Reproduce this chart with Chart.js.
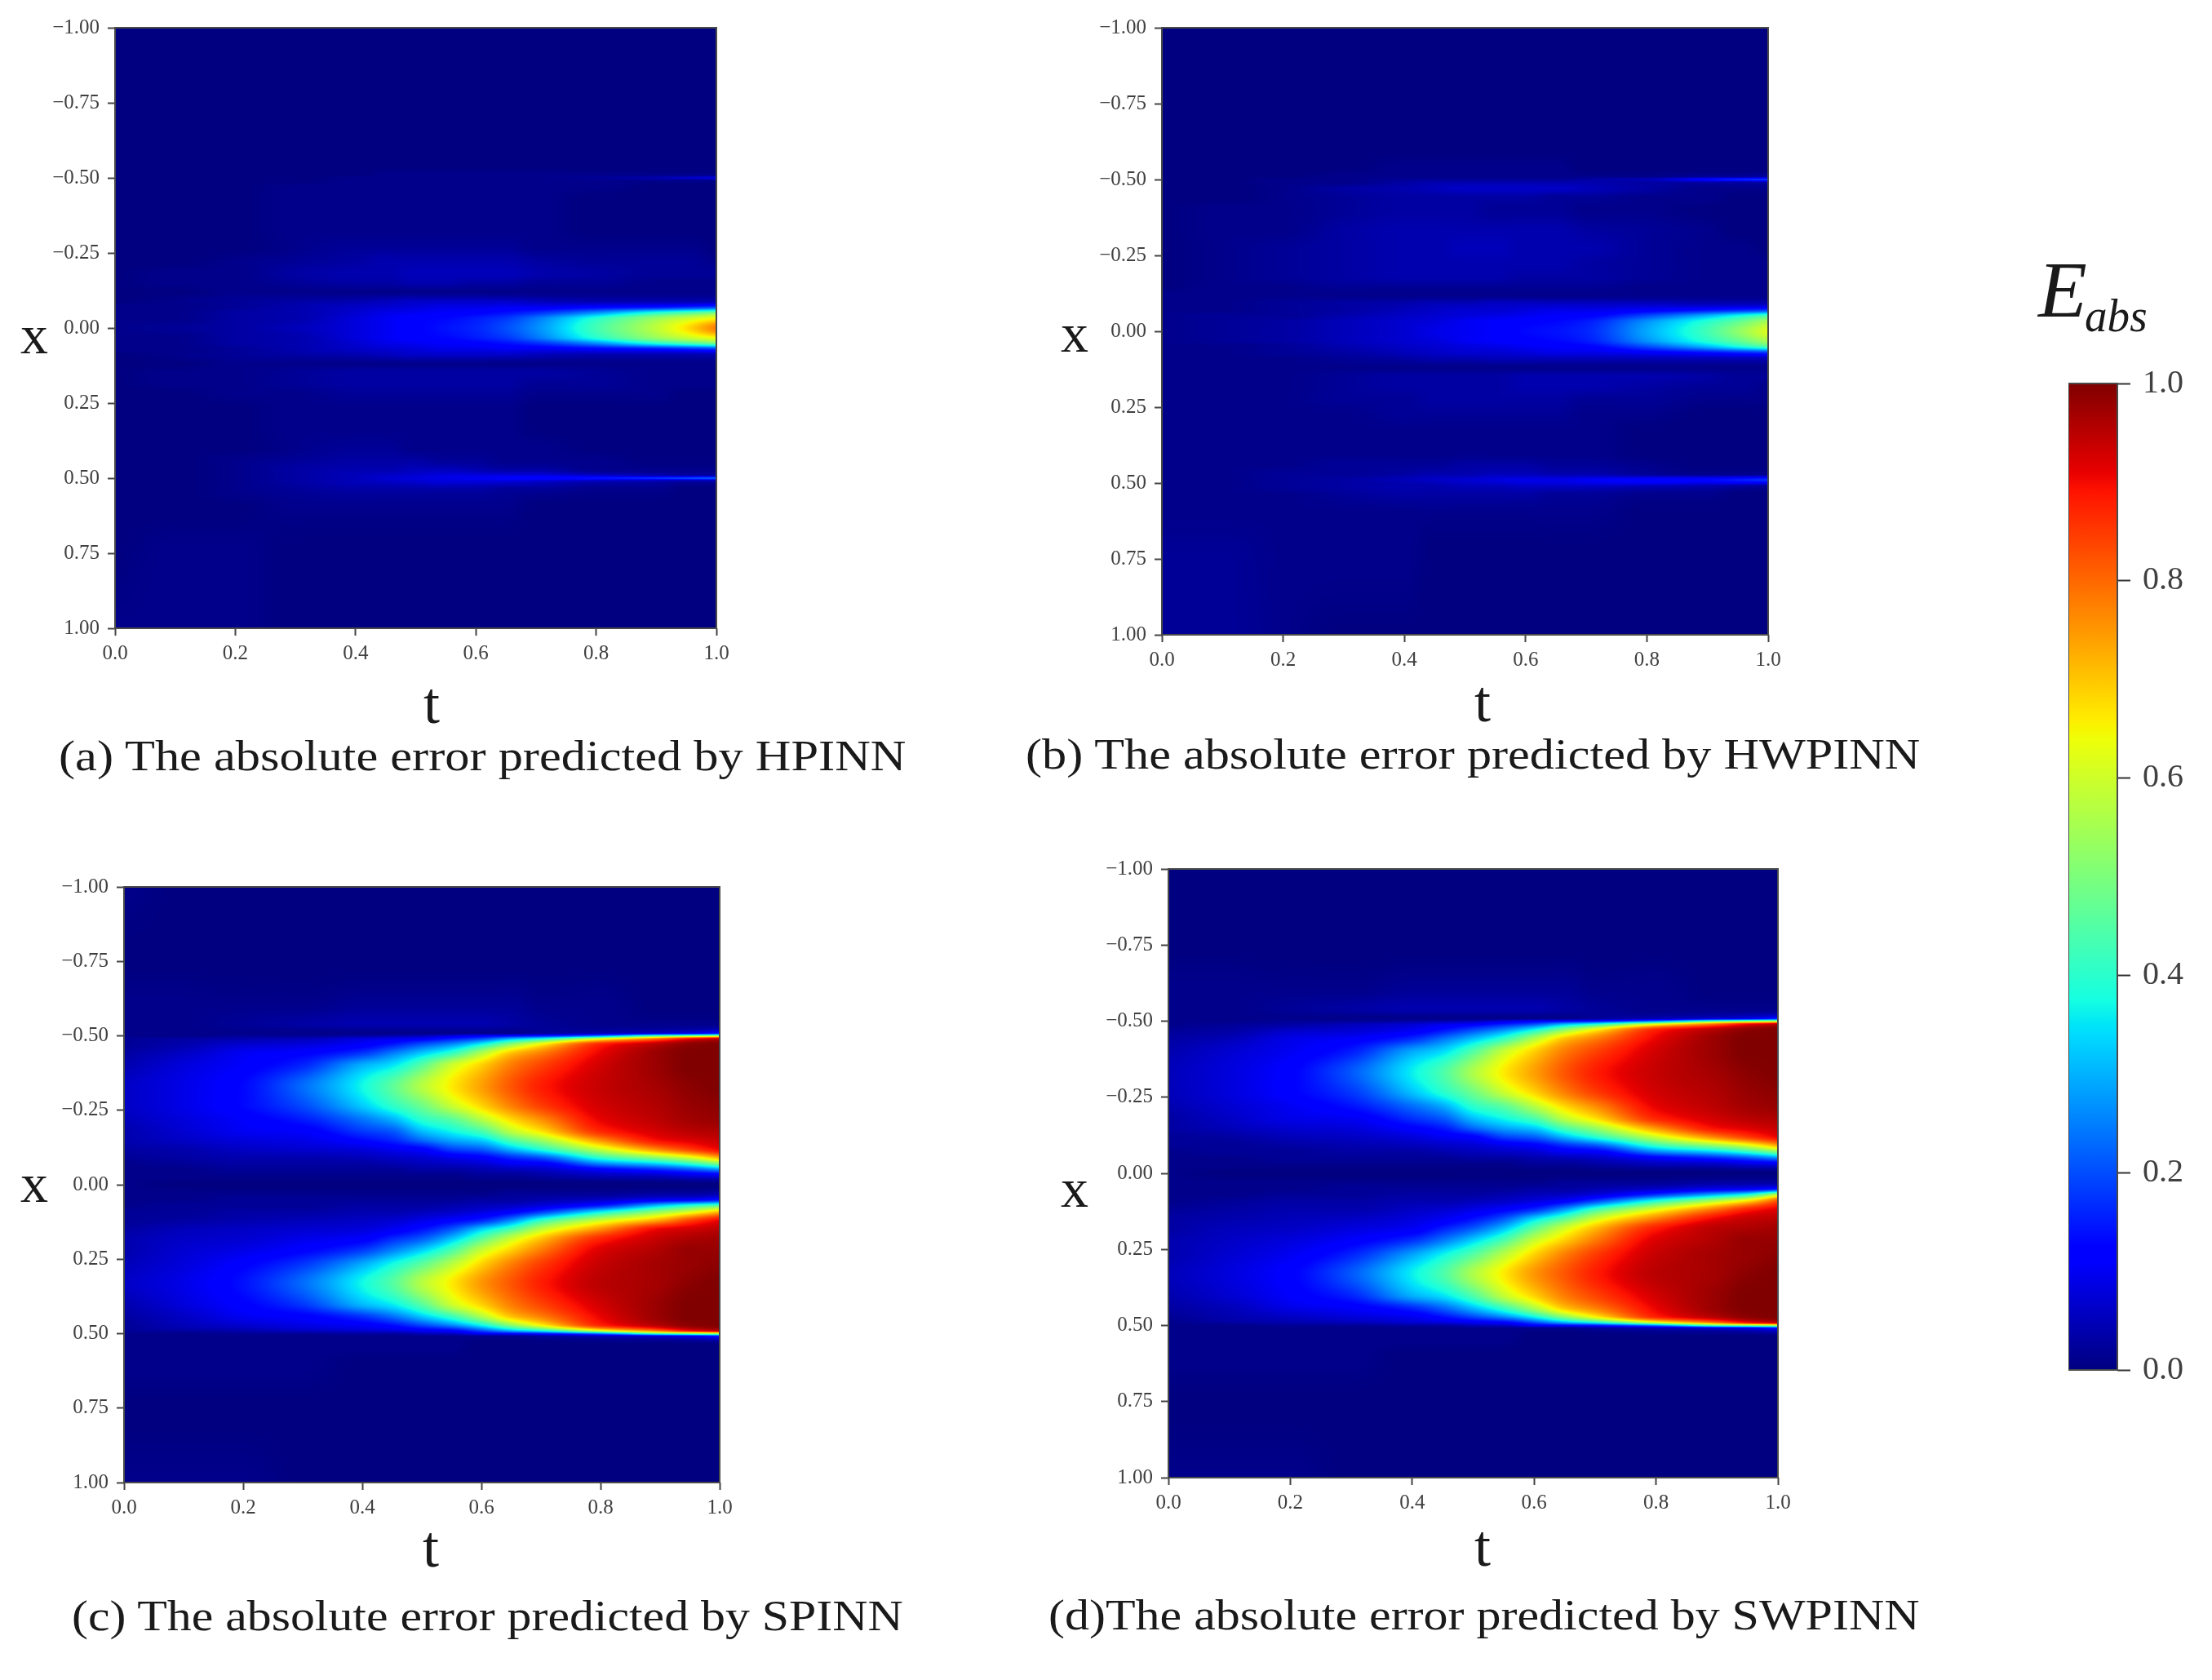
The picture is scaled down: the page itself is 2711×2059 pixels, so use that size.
<!DOCTYPE html>
<html>
<head>
<meta charset="utf-8">
<script src="https://cdn.jsdelivr.net/npm/chart.js@4/dist/chart.umd.min.js"></script>
<style>
  html, body { margin: 0; background: #fff; }
  #page { position: relative; width: 2711px; height: 2059px; overflow: hidden; filter: blur(0.7px); }
  canvas { position: absolute; }
  .txt { position: absolute; line-height: 1; white-space: nowrap; color: #1a1a1a; font-family: "Liberation Serif", serif; }
</style>
</head>
<body>
<div id="page"></div>
<script>
// axes of the error grids
const tCols = [0, 0.1, 0.2, 0.3, 0.4, 0.45, 0.5, 0.55, 0.6, 0.65, 0.7, 0.8, 0.9, 0.95, 1];
const xRows = [-1, -0.75, -0.6, -0.54, -0.51, -0.5, -0.49, -0.47, -0.44, -0.4, -0.33, -0.27, -0.22, -0.18, -0.15, -0.12, -0.09, -0.07, -0.05, -0.03, 0,
  0.03, 0.05, 0.07, 0.09, 0.12, 0.15, 0.18, 0.22, 0.27, 0.33, 0.4, 0.44, 0.47, 0.49, 0.5, 0.51, 0.54, 0.6, 0.75, 1];

const tTicks = [0, 0.2, 0.4, 0.6, 0.8, 1];
const tTickLabels = ['0.0', '0.2', '0.4', '0.6', '0.8', '1.0'];
const xTicks = [-1, -0.75, -0.5, -0.25, 0, 0.25, 0.5, 0.75, 1];
const xTickLabels = ['\u22121.00', '\u22120.75', '\u22120.50', '\u22120.25', '0.00', '0.25', '0.50', '0.75', '1.00'];
const barTicks = [0, 0.2, 0.4, 0.6, 0.8, 1];
const barTickLabels = ['0.0', '0.2', '0.4', '0.6', '0.8', '1.0'];
const barRange = [0, 1];

// E_abs in percent, one line per t column, top to bottom along x
const hpinnErr = [
  [0,0,0,0,0,0,0,0,0,0,0,0,0,0,0,0,0,1,1,1, 1, 1,1,1,0,0,0,0,0,0,0,0,0,0,0,0,0,0,0,0,1],
  [0,0,0,0,0,0,0,0,0,0,0,0,0,1,1,0,1,1,1,1, 2, 1,1,1,1,0,1,1,0,0,0,0,0,0,0,0,0,0,0,1,1],
  [0,0,0,0,0,0,0,0,0,0,0,0,1,1,1,1,2,2,3,3, 3, 3,3,2,2,1,1,1,1,0,0,0,1,1,1,1,1,1,0,1,1],
  [0,0,0,0,0,0,0,1,1,1,1,1,2,3,2,1,3,4,4,4, 5, 4,4,4,3,1,2,2,1,1,1,1,2,3,3,3,3,2,1,0,0],
  [0,0,0,0,0,1,1,1,1,1,1,2,3,4,3,1,4,6,7,8, 8, 8,7,6,4,1,3,3,2,1,1,2,3,4,5,5,5,3,1,0,0],
  [0,0,0,0,1,1,1,1,1,1,1,2,4,4,3,1,5,7,9,10, 10, 10,9,7,5,1,3,3,2,1,1,2,3,4,6,7,6,3,1,0,0],
  [0,0,0,0,1,1,1,1,1,1,1,2,4,5,4,1,6,8,10,12, 12, 12,10,8,6,1,3,3,2,1,1,1,3,5,7,8,7,3,1,0,0],
  [0,0,0,0,1,1,1,1,1,1,1,2,4,5,4,1,6,9,11,13, 14, 13,11,9,6,1,3,3,2,1,1,1,2,5,8,9,8,3,1,0,0],
  [0,0,0,0,1,1,1,1,1,1,1,2,4,5,3,1,6,9,12,15, 16, 15,12,9,6,1,3,3,2,1,1,1,2,4,8,10,8,3,1,0,0],
  [0,0,0,0,1,1,1,1,1,1,1,2,4,5,3,1,6,10,14,18, 20, 18,14,10,6,1,3,3,2,1,1,1,1,3,8,11,8,2,1,0,0],
  [0,0,0,0,1,1,1,1,1,1,1,1,3,4,2,1,5,10,17,24, 26, 24,17,10,5,1,3,2,1,0,0,1,1,3,8,12,7,2,0,0,0],
  [0,0,0,0,1,2,1,1,0,0,0,1,2,3,2,1,4,12,27,40, 43, 40,27,12,4,1,2,2,1,0,0,0,1,1,6,14,5,1,0,0,0],
  [0,0,0,0,1,4,1,0,0,0,0,1,2,2,1,1,4,14,40,54, 58, 54,40,14,4,1,1,1,1,0,0,0,0,1,4,17,4,1,0,0,0],
  [0,0,0,0,1,6,1,0,0,0,0,1,2,2,1,1,4,16,45,60, 67, 60,45,16,4,1,1,1,0,0,0,0,0,1,3,19,3,0,0,0,0],
  [0,0,0,0,1,8,1,0,0,0,0,0,1,2,1,1,4,18,50,66, 78, 66,50,18,4,1,1,1,0,0,0,0,0,1,3,21,3,0,0,0,0]
];

const hwpinnErr = [
  [0,0,0,0,0,0,0,0,0,0,0,0,0,0,0,1,1,1,1,1, 1, 1,1,1,1,1,1,1,1,1,1,1,1,1,1,1,1,1,1,2,2],
  [0,0,0,0,0,0,0,0,0,1,1,1,1,1,1,1,1,1,2,2, 2, 2,1,1,1,1,1,1,1,1,1,1,1,1,1,1,1,1,1,2,2],
  [0,0,0,0,0,1,1,1,1,1,1,2,2,2,1,1,2,2,2,3, 3, 3,2,2,1,1,1,1,1,1,1,1,1,2,2,2,2,1,1,1,1],
  [0,0,0,0,1,1,1,3,2,2,3,3,3,3,2,1,3,3,4,5, 5, 5,4,3,2,1,2,2,2,1,1,1,2,2,3,3,3,2,1,1,0],
  [0,0,0,1,1,2,3,4,3,3,4,4,4,4,2,1,4,5,6,7, 7, 7,6,5,3,1,3,3,2,2,1,1,2,3,5,4,4,3,1,1,0],
  [0,0,0,1,1,2,4,5,3,3,4,4,4,4,2,1,5,6,7,8, 9, 8,7,6,4,1,3,3,3,2,1,1,2,4,6,5,4,3,1,0,0],
  [0,0,0,1,1,2,4,6,3,3,4,5,4,4,2,1,5,7,8,10, 10, 10,8,7,4,1,3,3,3,2,1,1,3,4,7,6,5,3,1,0,0],
  [0,0,0,1,1,2,4,6,3,2,4,5,4,4,2,1,6,7,9,11, 11, 11,9,7,5,1,3,3,3,2,1,1,3,5,8,7,5,3,1,0,0],
  [0,0,0,1,1,2,4,6,3,2,4,4,4,3,2,1,6,8,10,12, 13, 12,10,8,5,1,4,4,3,2,1,1,3,5,9,8,6,3,1,0,0],
  [0,0,0,1,1,2,4,6,2,2,4,4,4,3,2,1,6,9,11,13, 14, 13,11,9,5,1,4,4,3,2,1,1,2,4,9,8,6,2,1,0,0],
  [0,0,0,0,1,3,4,5,2,1,3,4,3,3,2,1,6,9,12,15, 16, 15,12,9,5,1,4,4,2,1,1,1,2,4,10,9,6,2,1,0,0],
  [0,0,0,0,1,5,3,3,1,1,2,2,2,2,1,1,6,11,20,27, 29, 27,20,11,5,1,4,3,2,1,0,0,1,2,12,10,5,1,0,0,0],
  [0,0,0,0,2,13,3,1,1,0,1,1,1,1,1,1,5,14,31,40, 43, 40,31,14,5,1,3,2,1,0,0,0,0,1,13,9,4,1,0,0,0],
  [0,0,0,0,2,16,3,1,0,0,0,1,1,1,1,1,5,16,38,47, 52, 47,38,16,5,1,2,2,1,0,0,0,0,1,15,10,3,0,0,0,0],
  [0,0,0,0,3,18,3,1,0,0,0,0,1,1,1,1,5,18,45,56, 62, 56,45,18,5,1,2,1,1,0,0,0,0,1,17,10,2,0,0,0,0]
];

const spinnErr = [
  [1,0,1,1,1,1,2,2,3,4,6,6,5,4,4,3,2,1,1,1, 1, 1,1,1,2,2,3,4,4,5,6,4,3,2,2,1,1,1,1,0,1],
  [0,0,1,1,1,1,3,4,6,8,9,9,8,7,6,4,3,2,1,1, 0, 1,1,2,2,3,5,6,7,8,9,8,6,5,3,1,1,1,1,0,1],
  [0,0,1,2,1,2,4,7,10,11,13,13,11,10,8,6,4,3,2,1, 0, 1,2,2,3,4,6,7,9,12,14,12,10,7,4,2,1,1,1,0,1],
  [0,0,1,3,1,2,5,8,12,16,23,20,15,11,9,7,4,3,2,1, 0, 1,2,2,3,5,7,9,12,18,23,18,12,9,6,2,1,1,1,0,0],
  [0,0,2,4,1,3,8,11,18,30,37,33,24,18,13,8,5,3,2,1, 0, 1,2,3,4,6,8,11,18,30,37,31,18,11,7,3,1,1,0,0,0],
  [0,0,2,4,1,4,9,15,25,35,46,41,30,21,16,10,6,4,2,1, 0, 1,2,3,4,7,10,16,25,38,45,36,24,14,8,3,1,1,0,0,0],
  [0,0,2,4,1,5,11,21,33,46,57,49,40,31,23,12,7,5,3,1, 0, 1,2,3,5,9,14,21,33,47,57,46,33,20,10,5,1,1,0,0,0],
  [0,0,2,4,1,8,15,27,42,60,66,60,46,37,29,19,9,6,3,1, 0, 1,2,4,6,12,21,31,44,58,66,60,43,27,12,6,1,1,0,0,0],
  [0,0,2,4,1,11,20,38,57,69,74,69,57,44,33,22,11,7,4,2, 0, 1,3,5,8,16,33,45,59,69,75,69,57,38,20,11,1,0,0,0,0],
  [0,0,2,3,1,13,30,53,71,78,82,78,68,58,45,31,16,10,5,2, 0, 2,3,6,11,26,44,59,69,78,82,78,71,53,30,13,1,0,0,0,0],
  [0,0,1,2,2,15,38,66,78,84,88,85,76,67,54,40,20,11,6,3, 0, 2,4,8,17,41,58,70,78,85,88,84,78,66,38,15,2,0,0,0,0],
  [0,0,1,1,4,25,62,88,91,93,94,93,91,87,76,60,40,25,11,5, 0, 2,6,15,35,60,76,87,92,94,95,93,91,88,62,25,4,0,0,0,0],
  [0,0,0,1,6,45,80,96,98,98,97,96,95,93,90,78,52,33,16,6, 0, 3,10,32,52,74,91,94,96,97,97,98,98,96,80,45,6,0,0,0,0],
  [0,0,0,1,8,50,90,99,100,100,99,98,97,95,92,85,60,40,20,8, 0, 3,11,40,60,84,93,96,98,98,99,100,100,99,90,50,8,0,0,0,0],
  [0,0,0,1,12,55,95,100,100,100,100,99,98,96,94,91,72,50,26,9, 0, 4,14,46,70,91,95,97,98,99,100,100,100,100,95,55,12,0,0,0,0]
];

const swpinnErr = [
  [0,0,1,1,1,1,1,2,3,4,5,5,4,3,3,2,2,1,1,1, 1, 1,1,1,1,2,3,3,4,4,5,4,3,2,1,1,1,1,1,0,1],
  [0,0,1,1,1,1,2,3,5,7,8,8,7,6,5,3,2,2,1,1, 0, 1,1,1,2,3,4,5,6,7,8,7,5,4,3,1,1,1,1,0,1],
  [0,0,1,2,1,2,3,6,9,10,12,12,10,9,7,5,3,2,2,1, 0, 1,1,2,3,4,5,6,8,10,12,11,9,6,4,2,1,1,1,0,1],
  [0,0,1,3,1,2,5,7,11,15,21,18,14,10,8,6,4,3,2,1, 0, 1,2,2,3,4,6,8,11,16,21,16,11,8,5,2,1,1,1,0,0],
  [0,0,2,4,1,3,7,10,17,29,36,32,23,17,12,8,5,3,2,1, 0, 1,2,3,4,6,8,10,17,29,36,30,17,10,7,3,1,1,0,0,0],
  [0,0,2,4,1,4,9,14,24,34,44,40,29,21,15,10,6,4,2,1, 0, 1,2,3,4,7,10,15,24,37,44,35,23,14,8,3,1,1,0,0,0],
  [0,0,2,4,1,5,11,20,32,45,56,49,40,31,23,12,7,5,3,1, 0, 1,2,3,5,9,14,21,33,46,56,45,32,20,10,5,1,1,0,0,0],
  [0,0,2,4,1,8,15,27,42,59,66,60,46,37,29,19,9,6,3,1, 0, 1,2,4,6,12,21,31,44,58,66,59,43,27,12,6,1,1,0,0,0],
  [0,0,2,4,1,11,20,38,57,69,74,69,57,44,33,22,11,7,4,2, 0, 1,3,5,8,17,34,46,59,69,75,69,57,38,20,11,1,0,0,0,0],
  [0,0,2,3,1,13,30,53,71,78,82,78,68,58,45,31,16,10,5,2, 0, 2,3,6,11,28,46,60,69,78,82,78,71,53,30,13,1,0,0,0,0],
  [0,0,1,2,2,15,38,66,78,84,88,85,76,67,54,40,20,11,6,3, 0, 2,4,8,18,43,60,71,78,85,88,84,78,66,38,15,2,0,0,0,0],
  [0,0,1,1,4,25,62,88,91,93,94,93,91,87,76,60,40,25,11,5, 0, 2,6,17,38,63,78,88,92,94,95,93,91,88,62,25,4,0,0,0,0],
  [0,0,0,1,6,45,80,96,98,98,97,96,95,93,90,78,52,33,16,6, 0, 3,9,30,56,80,91,95,96,97,97,98,98,96,80,45,6,0,0,0,0],
  [0,0,0,1,8,50,90,99,100,100,99,98,97,95,92,85,60,40,20,8, 0, 3,10,38,66,88,94,96,98,98,99,100,100,99,90,50,8,0,0,0,0],
  [0,0,0,1,12,55,95,100,100,100,100,99,98,96,94,91,72,50,26,9, 0, 3,13,58,82,92,95,97,98,99,100,100,100,100,95,55,12,0,0,0,0]
];

// jet colormap knots
const jetR = [[0, 0], [0.35, 0], [0.66, 1], [0.89, 1], [1, 0.5]];
const jetG = [[0, 0], [0.125, 0], [0.375, 1], [0.64, 1], [0.91, 0], [1, 0]];
const jetB = [[0, 0.5], [0.11, 1], [0.34, 1], [0.65, 0], [1, 0]];
const barGradientStops = [0, 0.11, 0.125, 0.34, 0.35, 0.375, 0.64, 0.65, 0.66, 0.89, 0.91, 1];

function knot(list, v) {
  for (let i = 1; i < list.length; i++) {
    if (v <= list[i][0]) {
      const a = list[i - 1], b = list[i];
      return a[1] + (b[1] - a[1]) * (v - a[0]) / (b[0] - a[0]);
    }
  }
  return list[list.length - 1][1];
}
function jet(v) {
  return [knot(jetR, v) * 255, knot(jetG, v) * 255, knot(jetB, v) * 255];
}

// where value falls between two grid lines
function locate(list, v) {
  let i = 0;
  while (i < list.length - 2 && v > list[i + 1]) i++;
  const f = (v - list[i]) / (list[i + 1] - list[i]);
  return [i, Math.max(0, Math.min(1, f))];
}

// monotone slopes, so the display smoothing (like imshow's) can't overshoot
function slopes(xs, ys) {
  const n = xs.length, m = new Array(n), d = [];
  for (let i = 0; i < n - 1; i++) d.push((ys[i + 1] - ys[i]) / (xs[i + 1] - xs[i]));
  m[0] = d[0]; m[n - 1] = d[n - 2];
  for (let i = 1; i < n - 1; i++) {
    if (d[i - 1] * d[i] <= 0) { m[i] = 0; continue; }
    const h0 = xs[i] - xs[i - 1], h1 = xs[i + 1] - xs[i];
    const w0 = 2 * h1 + h0, w1 = h1 + 2 * h0;
    m[i] = (w0 + w1) / (w0 / d[i - 1] + w1 / d[i]);
  }
  return m;
}
function hermite(xs, ys, m, i, f) {
  const h = xs[i + 1] - xs[i], f2 = f * f, f3 = f2 * f;
  return (2 * f3 - 3 * f2 + 1) * ys[i] + (f3 - 2 * f2 + f) * h * m[i] +
    (3 * f2 - 2 * f3) * ys[i + 1] + (f3 - f2) * h * m[i + 1];
}

// paints the grid like imshow, going through the chart's own scales
const heatLayer = {
  id: 'heatLayer',
  beforeDatasetsDraw(chart) {
    const pts = chart.data.datasets[0].data;
    const area = chart.chartArea, sx = chart.scales.x, sy = chart.scales.y;
    const w = Math.round(area.right - area.left), h = Math.round(area.bottom - area.top);
    const img = chart.ctx.createImageData(w, h);
    const nr = xRows.length;
    const rowVals = xRows.map((x, r) => tCols.map((t, c) => pts[c * nr + r].v));
    const rowSlopes = rowVals.map(vals => slopes(tCols, vals));
    const rowAt = [];
    for (let j = 0; j < h; j++) rowAt.push(locate(xRows, sy.getValueForPixel(area.top + j + 0.5)));
    for (let i = 0; i < w; i++) {
      const [c, fc] = locate(tCols, sx.getValueForPixel(area.left + i + 0.5));
      const column = rowVals.map((vals, r) => hermite(tCols, vals, rowSlopes[r], c, fc));
      const colSlopes = slopes(xRows, column);
      for (let j = 0; j < h; j++) {
        const v = hermite(xRows, column, colSlopes, rowAt[j][0], rowAt[j][1]);
        const col = jet(Math.max(0, Math.min(1, v / 100)));
        const p = (j * w + i) * 4;
        img.data[p] = col[0]; img.data[p + 1] = col[1]; img.data[p + 2] = col[2]; img.data[p + 3] = 255;
      }
    }
    chart.ctx.putImageData(img, area.left, area.top);
  }
};

const frameLayer = {
  id: 'frameLayer',
  afterDatasetsDraw(chart) {
    const a = chart.chartArea, ctx = chart.ctx;
    ctx.save();
    ctx.strokeStyle = '#4a4a4a';
    ctx.lineWidth = 2;
    ctx.strokeRect(a.left, a.top, a.right - a.left, a.bottom - a.top);
    ctx.restore();
  }
};

const page = document.getElementById('page');
const TICK_FONT = { family: '"Liberation Serif", serif', size: 25 };

function addCanvas(left, top, width, height) {
  const c = document.createElement('canvas');
  c.width = width; c.height = height;
  c.style.left = left + 'px'; c.style.top = top + 'px';
  page.appendChild(c);
  return c;
}

function drawPanel(box, grid) {
  const [L, T, W, H] = box;
  const canvas = addCanvas(L - 110, T - 20, W + 150, H + 70);
  const points = [];
  tCols.forEach((t, c) => xRows.forEach((x, r) => points.push({ x: t, y: x, v: grid[c][r] })));
  new Chart(canvas, {
    type: 'scatter',
    data: { datasets: [{ data: points, pointRadius: 0 }] },
    plugins: [heatLayer, frameLayer],
    options: {
      responsive: false, animation: false, events: [],
      layout: { padding: { top: 20, right: 40 } },
      plugins: { legend: { display: false }, tooltip: { enabled: false } },
      scales: {
        x: {
          type: 'linear', min: 0, max: 1,
          afterBuildTicks: s => { s.ticks = tTicks.map(v => ({ value: v })); },
          afterFit: s => { s.height = 50; s.paddingLeft = 0; s.paddingRight = 0; },
          grid: { drawOnChartArea: false, tickLength: 9, tickWidth: 2, tickColor: '#444' },
          border: { display: false },
          ticks: { font: TICK_FONT, color: '#404040', padding: 7, maxRotation: 0, autoSkip: false,
            callback: v => tTickLabels[tTicks.indexOf(v)] }
        },
        y: {
          type: 'linear', min: -1, max: 1, reverse: true,
          afterBuildTicks: s => { s.ticks = xTicks.map(v => ({ value: v })); },
          afterFit: s => { s.width = 110; s.paddingTop = 0; s.paddingBottom = 0; },
          grid: { drawOnChartArea: false, tickLength: 9, tickWidth: 2, tickColor: '#444' },
          border: { display: false },
          ticks: { font: TICK_FONT, color: '#404040', padding: 10, autoSkip: false,
            callback: v => xTickLabels[xTicks.indexOf(v)] }
        }
      }
    }
  });
}

drawPanel([141, 34, 737, 736], hpinnErr);
drawPanel([1424, 34, 743, 744], hwpinnErr);
drawPanel([152, 1087, 730, 730], spinnErr);
drawPanel([1432, 1065, 747, 746], swpinnErr);

// colour bar
new Chart(addCanvas(2535, 445, 176, 1259), {
  type: 'bar',
  data: {
    labels: ['E'],
    datasets: [{
      data: [barRange], barPercentage: 1, categoryPercentage: 1,
      backgroundColor: c => {
        const a = c.chart.chartArea;
        if (!a) return '#000';
        const g = c.chart.ctx.createLinearGradient(0, a.bottom, 0, a.top);
        barGradientStops.forEach(s => {
          const col = jet(s);
          g.addColorStop(s, 'rgb(' + col.map(Math.round).join(',') + ')');
        });
        return g;
      }
    }]
  },
  plugins: [frameLayer],
  options: {
    responsive: false, animation: false, events: [],
    layout: { padding: { top: 25, bottom: 25 } },
    plugins: { legend: { display: false }, tooltip: { enabled: false } },
    scales: {
      x: { display: false },
      y: {
        position: 'right', min: 0, max: 1,
        afterBuildTicks: s => { s.ticks = barTicks.map(v => ({ value: v })); },
        afterFit: s => { s.width = 116; s.paddingTop = 0; s.paddingBottom = 0; },
        grid: { drawOnChartArea: false, tickLength: 16, tickWidth: 2, tickColor: '#333' },
        border: { display: false },
        ticks: { font: { family: '"Liberation Serif", serif', size: 40 }, color: '#404040', padding: 15, autoSkip: false,
          callback: v => barTickLabels[barTicks.indexOf(v)] }
      }
    }
  }
});

// text placed by baseline; width stretches the glyphs sideways
function addText(str, left, baseline, size, opts) {
  opts = opts || {};
  const el = document.createElement('div');
  el.className = 'txt';
  el.textContent = str;
  el.style.fontSize = size + 'px';
  el.style.top = (baseline - 0.8375 * size) + 'px';
  el.style.left = left + 'px';
  if (opts.italic) el.style.fontStyle = 'italic';
  page.appendChild(el);
  if (opts.center) el.style.left = (left - el.offsetWidth / 2) + 'px';
  if (opts.width) {
    el.style.transformOrigin = 'left center';
    el.style.transform = 'scaleX(' + (opts.width / el.offsetWidth) + ')';
  }
  return el;
}

const captions = [
  ['(a) The absolute error predicted by HPINN', 72, 945, 1038],
  ['(b) The absolute error predicted by HWPINN', 1257, 943, 1096],
  ['(c) The absolute error predicted by SPINN', 88, 1999, 1019],
  ['(d)The absolute error predicted by SWPINN', 1285, 1998, 1068]
];
captions.forEach(c => addText(c[0], c[1], c[2], 52, { width: c[3] }));

[[42, 433], [1317, 431], [42, 1473], [1317, 1479]].forEach(p => addText('x', p[0], p[1], 68, { center: true }));
[[529, 886], [1817, 884], [528, 1920], [1817, 1919]].forEach(p => addText('t', p[0], p[1], 72, { center: true }));

addText('E', 2498, 388, 98, { italic: true, width: 60 });
addText('abs', 2555, 407, 58, { italic: true, width: 77 });
</script>
</body>
</html>
